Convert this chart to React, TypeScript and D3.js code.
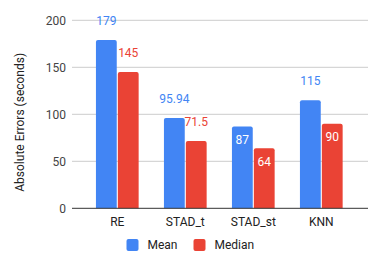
import React from "react";
import * as d3 from "d3";

const categories = ["RE", "STAD_t", "STAD_st", "KNN"];
const meanValues = [179, 95.94, 87, 115];
const medianValues = [145, 71.5, 64, 90];
const meanLabels = ["179", "95.94", "87", "115"];
const medianLabels = ["145", "71.5", "64", "90"];
const series = ["Mean", "Median"];
const yTicks = [0, 50, 100, 150, 200];
const colors = ["#4285F4", "#EA4335"];

const W = 381, H = 265;
const plotLeft = 72, plotRight = 368;
const yTop = 20.3, yBottom = 208.3;
const font = "Roboto, Arial, sans-serif";

export default function App() {
  const y = d3.scaleLinear().domain([0, 200]).range([yBottom, yTop]);
  const x0 = d3.scaleBand<string>().domain(categories).range([83.3, 355.3]).paddingInner(0.372).paddingOuter(0.186);
  const x1 = d3.scaleBand<string>().domain(series).range([0, x0.bandwidth()]).paddingInner(0.05);
  const data = [meanValues, medianValues];
  const labels = [meanLabels, medianLabels];

  const barPath = (x: number, w: number, yt: number, yb: number, r: number) =>
    `M${x},${yb}V${yt + r}Q${x},${yt} ${x + r},${yt}H${x + w - r}Q${x + w},${yt} ${x + w},${yt + r}V${yb}Z`;

  return (
    <svg width={W} height={H} style={{ position: "absolute", left: 0, top: 0, background: "#fff" }}>
      {yTicks.map((t) => (
        <g key={t}>
          {t !== 0 && (
            <line x1={plotLeft} x2={plotRight} y1={y(t)} y2={y(t)} stroke="#cccccc" strokeWidth={1} />
          )}
          <text x={66} y={y(t)} dy="0.35em" textAnchor="end" fontFamily={font} fontSize={12} fill="#444">
            {t}
          </text>
        </g>
      ))}
      {categories.map((c, i) =>
        series.map((s, j) => {
          const v = data[j][i];
          const bx = (x0(c) as number) + (x1(s) as number);
          const bw = x1.bandwidth();
          const top = y(v);
          const inside = yBottom - top > 0 && (c === "STAD_st" || (c === "KNN" && s === "Median"));
          const ly = inside ? top + 13.5 : top - 19;
          return (
            <g key={c + s}>
              <path d={barPath(bx, bw, top, yBottom, 2)} fill={colors[j]} />
              <text
                x={bx + bw / 2}
                y={ly}
                dy="0.35em"
                textAnchor="middle"
                fontFamily={font}
                fontSize={12}
                fill={inside ? "#ffffff" : colors[j]}
              >
                {labels[j][i]}
              </text>
            </g>
          );
        })
      )}
      <line x1={plotLeft} x2={plotRight} y1={yBottom} y2={yBottom} stroke="#333" strokeWidth={1} />
      {categories.map((c) => (
        <text
          key={c}
          x={(x0(c) as number) + x0.bandwidth() / 2}
          y={222}
          dy="0.35em"
          textAnchor="middle"
          fontFamily={font}
          fontSize={12}
          fill="#222"
        >
          {c}
        </text>
      ))}
      <text
        transform={`translate(20,${(yTop + yBottom) / 2 + 8}) rotate(-90)`}
        textAnchor="middle"
        dy="0.35em"
        fontFamily={font}
        fontSize={12}
        fill="#222"
      >
        Absolute Errors (seconds)
      </text>
      {series.map((s, j) => {
        const lx = j === 0 ? 126.5 : 193.5;
        return (
          <g key={s}>
            <rect x={lx} y={239} width={12} height={12} rx={2} fill={colors[j]} />
            <text x={lx + 21} y={245} dy="0.35em" fontFamily={font} fontSize={12} fill="#222">
              {s}
            </text>
          </g>
        );
      })}
    </svg>
  );
}
